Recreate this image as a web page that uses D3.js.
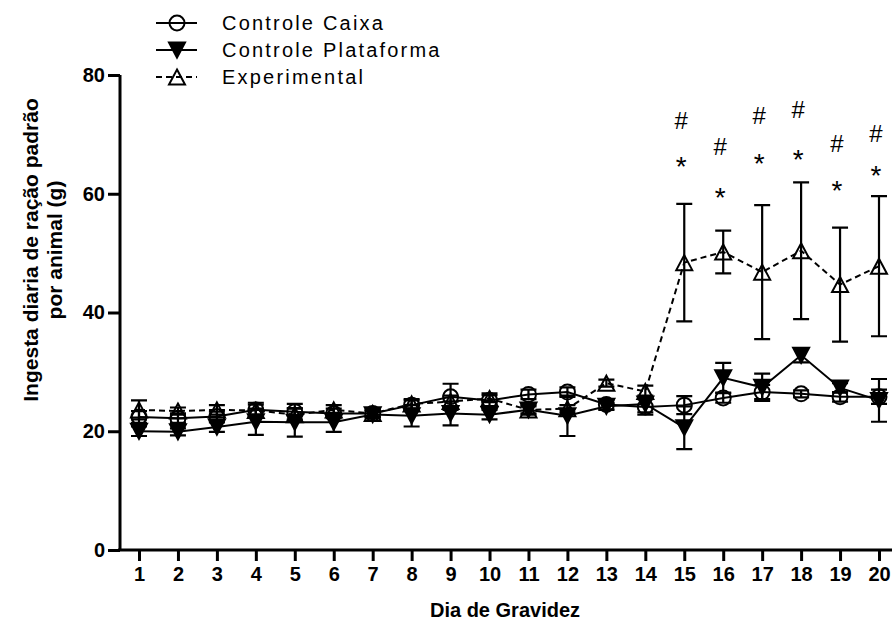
<!DOCTYPE html>
<html>
<head>
<meta charset="utf-8">
<script src="https://cdn.jsdelivr.net/npm/d3@7"></script>
<style>
  html, body { margin: 0; padding: 0; background: #fff; }
  svg { display: block; }
  text { font-family: "Liberation Sans", Arial, sans-serif; fill: #000; }
</style>
</head>
<body>
<svg id="chart" width="892" height="623"></svg>
<script>
// Daily standard chow intake per animal (g), mean ± SEM, by day of pregnancy
const dayLabels = ["1","2","3","4","5","6","7","8","9","10","11","12","13","14","15","16","17","18","19","20"];

const caixaMean = [22.4, 22.2, 22.5, 23.6, 23.3, 23.0, 23.0, 24.4, 25.8, 25.2, 26.2, 26.6, 24.5, 24.1, 24.4, 25.6, 26.6, 26.3, 25.8, 25.8];
const caixaSem  = [1.0, 0.8, 0.8, 1.2, 1.3, 0.8, 0.6, 0.8, 2.2, 1.2, 0.8, 0.8, 0.8, 1.3, 1.5, 0.8, 1.2, 0.6, 0.8, 1.2];

const plataformaMean = [20.0, 19.9, 20.7, 21.6, 21.5, 21.5, 22.8, 22.6, 23.0, 22.8, 23.6, 22.6, 24.2, 24.6, 20.6, 29.0, 27.4, 32.8, 27.3, 25.2];
const plataformaSem  = [0.8, 0.6, 0.8, 2.2, 2.4, 1.6, 0.6, 1.8, 2.0, 0.8, 0.8, 3.4, 0.6, 1.4, 3.6, 2.5, 2.3, 1.2, 0.8, 3.6];

const experimentalMean = [23.6, 23.4, 23.6, 23.5, 22.8, 23.6, 23.0, 24.6, 25.0, 25.5, 23.6, 23.8, 28.1, 26.7, 48.4, 50.2, 46.8, 50.4, 44.7, 47.8];
const experimentalSem  = [1.6, 0.6, 0.8, 1.0, 1.0, 0.8, 0.6, 0.8, 1.0, 0.6, 0.6, 0.6, 0.6, 1.0, 9.9, 3.6, 11.3, 11.5, 9.6, 11.8];

// Significance marks (drawn at these heights, in grams)
const markDays  = ["15","16","17","18","19","20"];
const starLevel = [65.7, 60.6, 66.2, 67.0, 61.8, 64.2];
const hashLevel = [72.4, 67.9, 73.1, 74.2, 68.5, 70.2];

const yTicks = [0, 20, 40, 60, 80];

const seriesNames = ["Controle Caixa", "Controle Plataforma", "Experimental"];

const svg = d3.select("#chart");

const x = d3.scalePoint().domain(dayLabels).range([139, 879]);
const y = d3.scaleLinear().domain([0, 80]).range([550, 75]);

const series = [
  { name: seriesNames[0], mean: caixaMean, sem: caixaSem, symbol: "circle", dash: null },
  { name: seriesNames[1], mean: plataformaMean, sem: plataformaSem, symbol: "down", dash: null },
  { name: seriesNames[2], mean: experimentalMean, sem: experimentalSem, symbol: "up", dash: "6,4" }
];

// ---- axes ----
const yAxis = d3.axisLeft(y).tickValues(yTicks).tickSize(12).tickPadding(3).tickFormat(d3.format("d"));
const gy = svg.append("g").attr("transform", "translate(120,0)").call(yAxis);
gy.select(".domain").attr("d", `M0,${y(80)}V${y(0)}`).attr("stroke", "#000").attr("stroke-width", 3);
gy.selectAll(".tick line").attr("stroke", "#000").attr("stroke-width", 3);
gy.selectAll(".tick text").attr("font-size", 20).attr("font-weight", "bold")
  .attr("font-family", "'Liberation Sans', Arial, sans-serif").attr("fill", "#000");

const xAxis = d3.axisBottom(x).tickSize(11).tickPadding(6);
const gx = svg.append("g").attr("transform", `translate(0,${y(0)})`).call(xAxis);
gx.select(".domain").attr("d", "M118,0H892").attr("stroke", "#000").attr("stroke-width", 3);
gx.selectAll(".tick line").attr("stroke", "#000").attr("stroke-width", 3);
gx.selectAll(".tick text").attr("font-size", 20).attr("font-weight", "bold")
  .attr("font-family", "'Liberation Sans', Arial, sans-serif").attr("fill", "#000");

// axis titles
svg.append("text")
  .attr("x", 505).attr("y", 617)
  .attr("text-anchor", "middle")
  .attr("font-size", 20).attr("font-weight", "bold")
  .text("Dia de Gravidez");

const yTitle = svg.append("g").attr("transform", "translate(0,250) rotate(-90)");
yTitle.append("text").attr("x", 0).attr("y", 38)
  .attr("text-anchor", "middle").attr("font-size", 21).attr("font-weight", "bold")
  .text("Ingesta diaria de ração padrão");
yTitle.append("text").attr("x", 0).attr("y", 62)
  .attr("text-anchor", "middle").attr("font-size", 21).attr("font-weight", "bold")
  .text("por animal (g)");

// ---- symbols ----
function symbolPath(kind) {
  const w = 8, h = 7.5;
  if (kind === "up") return `M0,${-h}L${w},${h}L${-w},${h}Z`;
  if (kind === "down") return `M${-w},${-h}L${w},${-h}L0,${h}Z`;
  return null;
}
function drawSymbol(g, kind, cx, cy) {
  if (kind === "circle") {
    g.append("circle").attr("cx", cx).attr("cy", cy).attr("r", 7.5)
      .attr("fill", "none").attr("stroke", "#000").attr("stroke-width", 2);
  } else {
    g.append("path").attr("d", symbolPath(kind))
      .attr("transform", `translate(${cx},${cy})`)
      .attr("fill", kind === "down" ? "#000" : "none")
      .attr("stroke", "#000").attr("stroke-width", 2).attr("stroke-linejoin", "miter");
  }
}

const plot = svg.append("g");

// connecting lines
series.forEach(s => {
  const line = d3.line().x((d, i) => x(dayLabels[i])).y(d => y(d));
  plot.append("path").datum(s.mean)
    .attr("d", line)
    .attr("fill", "none").attr("stroke", "#000").attr("stroke-width", 2)
    .attr("stroke-dasharray", s.dash);
});

// error bars
series.forEach(s => {
  const g = plot.append("g").attr("stroke", "#000").attr("stroke-width", 2.2).attr("fill", "none");
  s.mean.forEach((m, i) => {
    const cx = x(dayLabels[i]);
    const top = y(m + s.sem[i]), bot = y(m - s.sem[i]);
    g.append("path").attr("d", `M${cx},${top}V${bot}M${cx - 8},${top}H${cx + 8}M${cx - 8},${bot}H${cx + 8}`);
  });
});

// markers
series.forEach(s => {
  const g = plot.append("g");
  s.mean.forEach((m, i) => drawSymbol(g, s.symbol, x(dayLabels[i]), y(m)));
});

// significance marks
const marks = svg.append("g").attr("text-anchor", "middle");
markDays.forEach((d, i) => {
  marks.append("text").attr("x", x(d) - 3).attr("y", y(hashLevel[i]) + 8.5)
    .attr("font-size", 24).text("#");
  marks.append("text").attr("x", x(d) - 3).attr("y", y(starLevel[i]) + 16.5)
    .attr("font-size", 28).text("*");
});

// ---- legend ----
const legend = svg.append("g");
series.forEach((s, i) => {
  const cy = 23 + i * 27;
  legend.append("path").attr("d", `M156,${cy}H197`)
    .attr("stroke", "#000").attr("stroke-width", 2).attr("stroke-dasharray", s.dash);
  drawSymbol(legend, s.symbol, 177, cy);
  legend.append("text").attr("x", 222).attr("y", cy + 7)
    .attr("font-size", 20).attr("letter-spacing", 2.2)
    .text(s.name);
});
</script>
</body>
</html>
